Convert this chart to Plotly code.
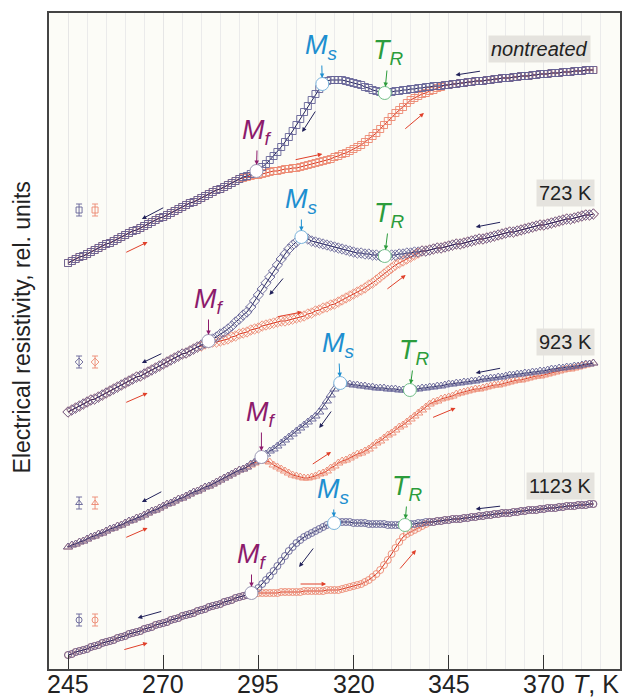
import plotly.graph_objects as go

# ---------------- data ----------------
T = list(range(245, 384))  # measurement temperatures, K

nt_cool = [406,408,410,412,413,415,417,419,421,423, 425,426,428,430,432,434,436,438,439,441,
           443,445,447,449,451,452,454,456,458,460, 462,464,466,467,469,471,473,475,477,479,
           480,482,484,486,488,490,492,493,495,497,
           499,502,505,509,513,517,522,527,532,538,544,550,557,563,569,575,580,585,
           588,589,589,589,589,588,587,586,585,584,582,581,579,578,577,576,
           577,577,578,578,579,579,580,580,581,581, 582,582,583,583,583,584,584,585,585,586,
           586,587,587,588,588,588,589,589,590,590, 591,591,591,592,592,593,593,593,594,594,
           595,595,595,596,596,596,597,597,597,598, 598,598,599,599,599]
nt_heat = [406,408,410,412,413,415,417,419,421,423, 425,426,428,430,432,434,436,438,439,441,
           443,445,447,449,451,452,454,456,458,460, 462,464,466,467,469,471,473,475,477,479,
           480,482,484,486,488,490,
           491,492,493,494,494,495,496,497,498,498, 499,500,500,501,501,502,503,504,505,506,
           507,508,509,510,512,513,515,516,518,520, 522,524,527,530,533,536,540,544,548,552,
           556,559,562,566,569,571,573,575,576,578, 579,581,582,584,
           584,585,585,586,586,587,587,588,588,588, 589,589,590,590,591,591,591,592,592,593,
           593,593,594,594,595,595,595,596,596,596, 597,597,597,598,598,598,599,599,599]

a_cool = [257,259,261,263,265,267,269,270,272,274, 276,278,280,282,284,286,288,290,292,293,
          295,297,299,301,303,305,307,309,311,313, 315,316,318,320,322,324,326,328,
          330,332,335,337,340,343,347,350,354,357, 362,368,374,380,386,392,398,404,410,415,
          420,424,427,431,432,
          430,428,427,426,425,424,423,422,421,420, 419,418,417,416,416,415,415,414,414,413,413,
          413,414,414,415,415,416,416,417,417,418, 418,419,420,421,421,422,423,424,425,425,
          426,427,428,429,430,430,431,432,433,434, 435,436,437,437,438,439,440,441,442,443,
          444,444,445,446,447,448,449,450,450,451, 452,453,454,454,455]
a_heat = [257,259,261,263,265,267,269,270,272,274, 276,278,280,282,284,286,288,290,292,293,
          295,297,299,301,303,305,307,309,311,313, 315,316,318,320,322,
          323,325,326,327,327,328,329,330,332,333, 335,336,337,339,340,341,343,344,345,346,
          347,348,348,349,350,351,352,353,355,356, 358,359,361,362,364,365,367,369,371,373,
          375,377,379,381,384,386,389,392,395,398, 401,404,406,408,410,412,414,416,418,
          418,419,420,421,421,422,423,424,425,425, 426,427,428,429,430,430,431,432,433,434,
          435,436,437,437,438,439,440,441,442,443, 444,444,445,446,447,448,449,450,450,451,
          452,453,454,454,455]

b_cool = [122,124,125,127,128,130,132,133,135,136, 138,140,141,143,144,146,148,149,151,152,
          154,156,158,159,161,163,165,166,168,170, 171,173,175,177,178,180,182,183,185,187,
          189,191,193,195,197,199,200,202,205,207, 210,213,
          215,218,220,223,226,229,232,235,238,241, 244,247,250,253,257,262,268,274,280,286,
          286,285,285,284,284,283,283,282,282,281, 281,281,280,280,280,279,279,279,279,
          280,280,281,281,282,282,283,283,284,285, 285,286,286,287,287,288,288,289,290,290,
          291,291,292,292,293,294,294,295,295,296, 296,297,297,298,298,299,300,300,301,301,
          302,302,303,303,304,305,305,306]
b_heat = [122,124,125,127,128,130,132,133,135,136, 138,140,141,143,144,146,148,149,151,152,
          154,156,158,159,161,163,165,166,168,170, 171,173,175,177,178,180,182,183,185,187,
          189,191,193,195,197,199,200,202,
          204,206,208,209,208,207,204,202,200,198, 196,194,193,192,191,191,192,193,195,196,
          198,201,203,206,208,209,211,213,215,216, 218,220,223,226,228,231,234,236,239,242,
          244,247,250,253,256,259,262,265,267,268, 270,271,272,273,275,276,277,278,279,280,
          280,281,282,283,284,284,285,286,287,288, 289,289,290,291,292,293,293,294,295,296,
          297,298,299,300,300,301,302,303,304,305, 306]

c_cool = [14,15,17,18,19,20,22,23,24,26, 27,28,29,31,32,33,35,36,37,38,
          40,41,42,44,45,46,47,49,50,51, 53,54,55,56,58,59,60,62,63,64,
          65,67,68,69,71,72,73,74,76,
          78,81,85,89,93,98,103,108,113,118, 122,126,129,132,134,136,138,140,142,144,145,146,
          147,147,147,147,146,146,146,146,145,145, 145,145,145,144,144,144,144,144,144,
          145,145,146,146,147,147,147,148,148,149, 149,150,150,150,151,151,152,152,153,153,
          154,154,155,155,156,156,156,157,157,158, 158,159,159,159,160,160,161,161,161,162,
          162,163,163,163,164,164,164,165,165]
c_heat = [14,15,17,18,19,20,22,23,24,26, 27,28,29,31,32,33,35,36,37,38,
          40,41,42,44,45,46,47,49,50,51, 53,54,55,56,58,59,60,62,63,64,
          65,67,68,69,71,72,73,
          74,75,75,76,76,76,76,76,76,77, 77,77,77,77,77,78,78,78,78,78,
          78,79,79,79,79,80,81,82,83,84, 85,87,89,92,95,99,104,109,115,121,
          127,132,135,137,139,141,143,145,147,
          147,148,148,149,149,150,150,150,151,151, 152,152,153,153,154,154,155,155,156,156,
          156,157,157,158,158,159,159,159,160,160, 161,161,161,162,162,163,163,163,164,164,
          164,165,165]

series_names = ["nontreated", "723 K", "923 K", "1123 K"]
cooling = [nt_cool, a_cool, b_cool, c_cool]
heating = [nt_heat, a_heat, b_heat, c_heat]
symbols = ["square-open", "diamond-open", "triangle-up-open", "circle-open"]
msizes = [7, 8, 8, 7]

# characteristic points (T, value): Mf, Ms, TR
mf_pts = [(294.5, 498), (281.9, 328), (295.8, 212), (293.2, 76)]
ms_pts = [(311.8, 585), (306.3, 432), (316.5, 286), (314.9, 146)]
tr_pts = [(328.2, 576), (328.2, 413), (334.8, 279), (333.5, 144)]

# label box positions (T, value)
box_pos = [(368.8, 620), (375.6, 476), (375.6, 327), (374.3, 183)]
# legend icon positions
icon_T = [247.9, 252.1]
icon_y = [459, 307, 166, 49]

# direction arrows: (T_tail, y_tail, T_head, y_head)
cool_arrows = [(353.6, 598, 346.8, 594), (310.2, 559, 306.5, 537), (270.4, 462, 264.4, 450),
               (358.9, 447, 352.1, 442), (301.8, 392, 297.9, 374), (269.9, 316, 264.4, 306),
               (358.9, 301, 352.1, 296), (314.4, 259, 311.0, 241), (269.9, 178, 264.4, 167),
               (358.9, 163, 352.1, 160), (309.7, 122, 305.7, 102), (269.9, 58, 263.3, 51)]
heat_arrows = [(304.4, 509, 311.8, 515), (333.2, 539, 338.5, 556), (259.9, 416, 265.9, 427),
               (299.7, 352, 306.5, 357), (328.5, 379, 333.7, 394), (259.9, 266, 265.9, 276),
               (308.9, 204, 314.1, 217), (340.5, 251, 346.8, 261), (259.9, 131, 265.9, 141),
               (305.7, 85, 312.8, 85), (331.9, 99, 336.4, 119), (259.4, 19, 265.9, 26)]

# label offsets in pixels (text centre relative to the point)
ms_off = [(-1, -37), (0, -36), (-2, -38), (-1, -32)]
tr_off = [(4, -41), (5, -41), (5, -38), (3, -37)]
mf_off = [(1, -39), (0, -40), (0, -43), (0, -37)]

xticks = [245, 270, 295, 320, 345, 370]

# ---------------- styles ----------------
COOL_MK = "rgba(100,98,150,0.9)"
COOL_LN = "#22225a"
HEAT_MK = "rgba(236,135,112,0.9)"
HEAT_LN = "#d6301c"
MS_C = "#1e8fd0"
TR_C = "#2c9c3c"
MF_C = "#8c1b6c"
SANS = "Liberation Sans, Arial, sans-serif"

fig = go.Figure()

for i in range(4):
    assert len(cooling[i]) == len(T) and len(heating[i]) == len(T)
    fig.add_trace(go.Scatter(x=T, y=heating[i], mode="lines+markers",
                             line=dict(color=HEAT_LN, width=1),
                             marker=dict(symbol=symbols[i], size=msizes[i],
                                         color=HEAT_MK, line=dict(width=1, color=HEAT_MK)),
                             name=series_names[i] + " heating"))
    fig.add_trace(go.Scatter(x=T, y=cooling[i], mode="lines+markers",
                             line=dict(color=COOL_LN, width=1),
                             marker=dict(symbol=symbols[i], size=msizes[i],
                                         color=COOL_MK, line=dict(width=1, color=COOL_MK)),
                             name=series_names[i] + " cooling"))
    for j, col in enumerate([COOL_MK, HEAT_MK]):
        fig.add_trace(go.Scatter(x=[icon_T[j]], y=[icon_y[i]], mode="markers",
                                 marker=dict(symbol=symbols[i], size=6, color=col,
                                             line=dict(width=1, color=col)),
                                 error_y=dict(type="constant", value=6, width=3,
                                              thickness=1, color=col)))

for pts, col in [(mf_pts, "#9a98b4"), (ms_pts, "#7ab4dc"), (tr_pts, "#74c08a")]:
    fig.add_trace(go.Scatter(x=[p[0] for p in pts], y=[p[1] for p in pts], mode="markers",
                             marker=dict(symbol="circle", size=13, color="white",
                                         line=dict(width=1, color=col))))

ann = []
lab_specs = [(ms_pts, ms_off, MS_C, "<i>M<sub>s</sub></i>"),
             (tr_pts, tr_off, TR_C, "<i>T<sub>R</sub></i>"),
             (mf_pts, mf_off, MF_C, "<i>M<sub>f</sub></i>")]
for pts, offs, col, txt in lab_specs:
    for p, o in zip(pts, offs):
        ann.append(dict(x=p[0], y=p[1], ax=o[0], ay=o[1], text=txt, showarrow=True,
                        arrowhead=2, arrowsize=0.9, arrowwidth=1, arrowcolor=col,
                        standoff=6, font=dict(family=SANS, size=27, color=col)))

for arrs, col in [(cool_arrows, COOL_LN), (heat_arrows, "#e0402a")]:
    for a in arrs:
        ann.append(dict(x=a[2], y=a[3], ax=a[0], ay=a[1], axref="x", ayref="y",
                        xref="x", yref="y", text="", showarrow=True, arrowhead=2,
                        arrowsize=0.9, arrowwidth=1, arrowcolor=col))

for k, (bx, by) in enumerate(box_pos):
    txt = "<i>nontreated</i>" if k == 0 else series_names[k]
    ann.append(dict(x=bx, y=by, text=txt, showarrow=False, bgcolor="#e5e3de",
                    borderpad=2, font=dict(family=SANS, size=20, color="#222222")))

# x tick labels as text
for v in xticks:
    ann.append(dict(x=v, xref="x", yref="paper", y=-0.023, xanchor="center", yanchor="middle",
                    text=str(v), showarrow=False,
                    font=dict(family=SANS, size=25, color="#222222")))
ann.append(dict(xref="paper", yref="paper", x=0.958, y=-0.023, xanchor="center", yanchor="middle",
                text="<i>T</i>, K", showarrow=False, font=dict(family=SANS, size=25, color="#222222")))

ann.append(dict(xref="paper", yref="paper", x=-0.047, y=0.521, xanchor="center", yanchor="middle",
                text="Electrical resistivity, rel. units",
                textangle=-90, showarrow=False, font=dict(family=SANS, size=23, color="#222222")))

fig.update_layout(
    width=628, height=698, showlegend=False,
    margin=dict(l=49, r=6, t=13, b=29),
    paper_bgcolor="white", plot_bgcolor="#fcfcf7",
    annotations=ann,
    xaxis=dict(range=[240, 390], tickvals=xticks, showticklabels=False,
               ticks="inside", ticklen=14, tickwidth=1.2, tickcolor="#333333",
               showline=True, mirror=True, linecolor="#444444", linewidth=1.5,
               showgrid=True, gridcolor="#e6e6e6", gridwidth=1, zeroline=False,
               minor=dict(tick0=240, dtick=5, showgrid=True, gridcolor="#ebebeb", gridwidth=1)),
    yaxis=dict(range=[0, 656], showticklabels=False, showgrid=False, zeroline=False,
               showline=True, mirror=True, linecolor="#444444", linewidth=1.5, ticks=""),
)

fig.write_html("out.html", config={"displayModeBar": False},
               post_script="document.body.style.margin='0';document.body.style.overflow='hidden';")
